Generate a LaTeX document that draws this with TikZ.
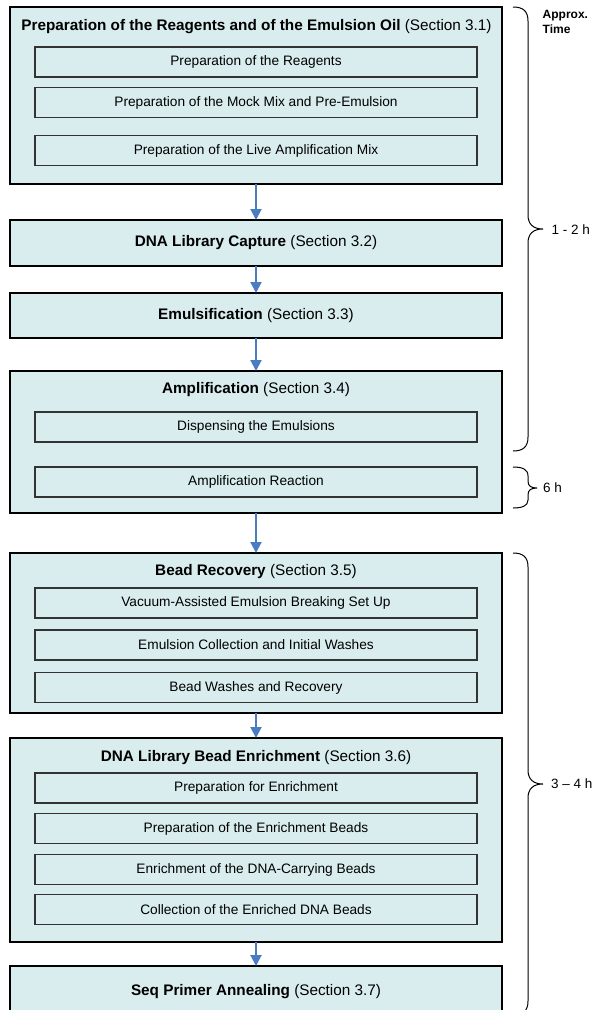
\documentclass[tikz,border=0pt]{standalone}
\usepackage{fontspec}
\setmainfont{Liberation Sans}
\usetikzlibrary{arrows.meta}
\definecolor{boxfill}{HTML}{DAEDEE}
\definecolor{arrowblue}{HTML}{4A7CC4}
\definecolor{subline}{HTML}{333333}
\tikzset{
  mainbox/.style={draw=black, line width=2pt, fill=boxfill, rectangle, inner sep=0pt, outer sep=0pt, minimum width=492pt},
  subbox/.style={draw=subline, line width=1.1pt, fill=boxfill, rectangle, inner sep=0pt, outer sep=0pt, minimum width=442pt, minimum height=30pt, font=\fontsize{13.7}{16}\selectfont},
  titletext/.style={inner sep=0pt, font=\fontsize{15.3}{18}\selectfont},
  flow/.style={draw=arrowblue, line width=2pt, -{Triangle[width=11pt,length=11pt]}},
  bracepath/.style={draw=black, line width=1pt},
  timelabel/.style={inner sep=0pt, anchor=west, font=\fontsize{13.5}{16}\selectfont}
}
\begin{document}
\begin{tikzpicture}[x=1pt,y=-1pt]
\useasboundingbox (0,0) rectangle (597,1010);
\clip (0,0) rectangle (597,1010);
% main boxes
\node[mainbox, minimum height=177pt] (b1) at (256,95.5) {};
\node[mainbox, minimum height=46pt] (b2) at (256,243) {};
\node[mainbox, minimum height=45pt] (b3) at (256,315.5) {};
\node[mainbox, minimum height=142pt] (b4) at (256,442) {};
\node[mainbox, minimum height=160pt] (b5) at (256,633) {};
\node[mainbox, minimum height=204pt] (b6) at (256,840) {};
\node[mainbox, minimum height=52pt] (b7) at (256,992) {};
% titles
\node[titletext] (t1) at (256.5,26.5) {\textbf{Preparation of the Reagents and of the Emulsion Oil} (Section 3.1)};
\node[titletext] (t2) at (256,243) {\textbf{DNA Library Capture} (Section 3.2)};
\node[titletext] (t3) at (256,315.5) {\textbf{Emulsification} (Section 3.3)};
\node[titletext] (t4) at (256,390) {\textbf{Amplification} (Section 3.4)};
\node[titletext] (t5) at (256,572) {\textbf{Bead Recovery} (Section 3.5)};
\node[titletext] (t6) at (256,758) {\textbf{DNA Library Bead Enrichment} (Section 3.6)};
\node[titletext] (t7) at (256,992) {\textbf{Seq Primer Annealing} (Section 3.7)};
% sub boxes
\node[subbox] (s11) at (256,62) {Preparation of the Reagents};
\node[subbox] (s12) at (256,102.5) {Preparation of the Mock Mix and Pre-Emulsion};
\node[subbox] (s13) at (256,150.5) {Preparation of the Live Amplification Mix};
\node[subbox] (s41) at (256,427) {Dispensing the Emulsions};
\node[subbox] (s42) at (256,482) {Amplification Reaction};
\node[subbox] (s51) at (256,603) {Vacuum-Assisted Emulsion Breaking Set Up};
\node[subbox] (s52) at (256,645) {Emulsion Collection and Initial Washes};
\node[subbox] (s53) at (256,687.5) {Bead Washes and Recovery};
\node[subbox] (s61) at (256,788) {Preparation for Enrichment};
\node[subbox] (s62) at (256,828.5) {Preparation of the Enrichment Beads};
\node[subbox] (s63) at (256,869.5) {Enrichment of the DNA-Carrying Beads};
\node[subbox] (s64) at (256,909.5) {Collection of the Enriched DNA Beads};
% arrows
\draw[flow] (b1.south) -- (b2.north);
\draw[flow] (b2.south) -- (b3.north);
\draw[flow] (b3.south) -- (b4.north);
\draw[flow] (b4.south) -- (b5.north);
\draw[flow] (b5.south) -- (b6.north);
\draw[flow] (b6.south) -- (b7.north);
% header
\node[inner sep=0pt, anchor=north west, align=left, font=\fontsize{12}{15}\selectfont\bfseries] (hdr) at (542.5,10) {Approx.\\Time};
% braces
\draw[bracepath] (513,7) .. controls (523,7) and (528,11) .. (528,21) -- (528,215)
  .. controls (528,224) and (533,229) .. (543,229)
  .. controls (533,229) and (528,234) .. (528,243) -- (528,437)
  .. controls (528,447) and (523,451) .. (513,451);
\draw[bracepath] (513,467) .. controls (522,467) and (528,469) .. (528,476) -- (528,481)
  .. controls (528,486) and (531,488) .. (537,488)
  .. controls (531,488) and (528,490) .. (528,495) -- (528,500)
  .. controls (528,506) and (522,508) .. (513,508);
\draw[bracepath] (513,553) .. controls (523,553) and (528,557) .. (528,567) -- (528,770)
  .. controls (528,779) and (533,784) .. (543,784)
  .. controls (533,784) and (528,789) .. (528,798) -- (528,1001)
  .. controls (528,1011) and (523,1015) .. (513,1015);
% time labels
\node[timelabel] (l1) at (551.5,230) {1 - 2 h};
\node[timelabel] (l2) at (543,488) {6 h};
\node[timelabel] (l3) at (551,784) {3 -- 4 h};
\end{tikzpicture}
\end{document}
